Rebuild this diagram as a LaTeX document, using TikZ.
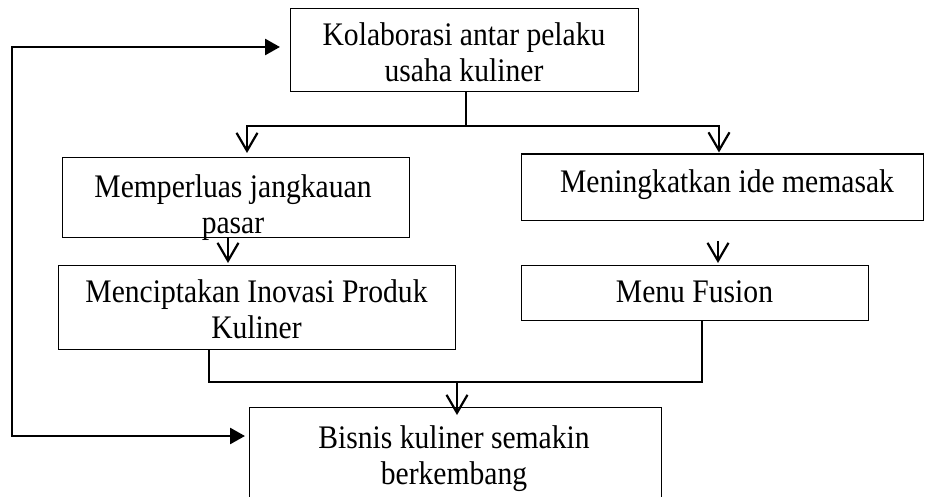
\documentclass[tikz,border=0pt]{standalone}
\usepackage{fontspec}
\newfontfamily\boxfont{Liberation Serif}[FakeStretch=0.9]
\usetikzlibrary{arrows.meta,calc}
% two centred lines whose baseline is that of the first line
\newcommand{\twolines}[2]{\begin{tabular}[t]{@{}c@{}}#1\\#2\end{tabular}}
\begin{document}
\begin{tikzpicture}[x=1pt,y=-1pt,
  plainbox/.style={draw, line width=1.1pt, inner sep=0pt, anchor=north west},
  txt/.style={inner sep=0pt, anchor=base, font=\boxfont\fontsize{32.9}{36}\selectfont},
  conn/.style={line width=2.5pt},
  vtip/.style={arrows={-Straight Barb[length=18pt,width=21pt,line width=2.2pt]}},
  fb/.style={line width=2.7pt, line join=miter,
    arrows={Triangle[length=15pt,width=16pt]-Triangle[length=15pt,width=16pt]}}]
\useasboundingbox (0,0) rectangle (925,497);
\clip (0,0) rectangle (925,497);

% boxes
\node[plainbox, minimum width=348, minimum height=83]   (kol) at (290,8) {};
\node[plainbox, minimum width=347, minimum height=80]   (mem) at (62,157) {};
\node[plainbox, minimum width=401.5, minimum height=66.5] (ide) at (521,153.5) {};
\node[plainbox, minimum width=397, minimum height=84]   (cip) at (58,265) {};
\node[plainbox, minimum width=347, minimum height=55]   (fus) at (521,265) {};
\node[plainbox, minimum width=412, minimum height=110]  (bis) at (249,407) {};

% box texts
\node[txt] (kolT) at (464,46)    {\twolines{Kolaborasi antar pelaku}{usaha kuliner}};
\node[txt] (memT) at (233,197)   {\twolines{Memperluas jangkauan}{pasar}};
\node[txt] (ideT) at (727,192)   {Meningkatkan ide memasak};
\node[txt] (cipT) at (256.5,302) {\twolines{Menciptakan Inovasi Produk}{Kuliner}};
\node[txt] (fusT) at (694.5,302) {Menu Fusion};
\node[txt] (bisT) at (454,448)   {\twolines{Bisnis kuliner semakin}{berkembang}};

% split below the top box
\coordinate (sp)  at (466,126);
\coordinate (spL) at (247,126);
\coordinate (spR) at (719,126);
\draw[conn] (sp |- kol.south) -- (sp);
\draw[conn, vtip, shorten >=4pt] (sp) -- (spL) -- (spL |- mem.north);
\draw[conn, vtip, shorten >=1pt] (sp) -- (spR) -- (spR |- ide.north);

% second-level arrows
\coordinate (aM) at (228,250);
\draw[conn, vtip, shorten >=2pt] (aM |- mem.south) -- (aM |- cip.north);
\coordinate (aF) at (718,241);
\draw[conn, vtip, shorten >=2pt] (aF) -- (aF |- fus.north);

% merge into the bottom box
\coordinate (mL) at (209,382);
\coordinate (mR) at (702,382);
\coordinate (mC) at (457,382);
\draw[conn] (mL |- cip.south) -- (mL) -- (mR) -- (mR |- fus.south);
\draw[conn, vtip] (mC) -- ($(mC |- bis.north)+(0,8)$);

% feedback loop on the left
\coordinate (fbT) at (12,47);
\coordinate (fbB) at (12,436);
\draw[fb, shorten <=10pt, shorten >=4pt]
  (fbT -| kol.west) -- (fbT) -- (fbB) -- (fbB -| bis.west);
\end{tikzpicture}
\end{document}
